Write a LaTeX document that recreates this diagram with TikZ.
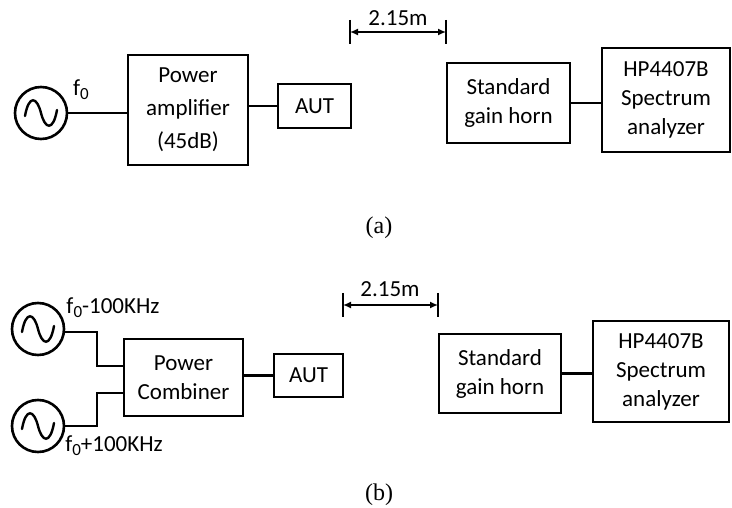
\documentclass[tikz,border=0pt]{standalone}
\usepackage{fontspec}
\setmainfont{Carlito}
\newfontfamily\capfont{Liberation Serif}
\usetikzlibrary{arrows.meta}

\begin{document}
\begin{tikzpicture}[x=1pt,y=-1pt,
  box/.style={draw,line width=2.8pt,inner sep=0pt,align=center,
    font=\fontsize{23}{29}\selectfont},
  src/.style={draw,circle,line width=2.6pt,minimum size=52pt,inner sep=0pt},
  wave/.style={line width=2.4pt,line cap=round},
  link/.style={line width=2.8pt},
  tickline/.style={line width=1.5pt},
  dimline/.style={line width=1.5pt,
    {Latex[length=8pt,width=7pt]}-{Latex[length=8pt,width=7pt]}},
  lbl/.style={font=\fontsize{23}{26}\selectfont,inner sep=0pt},
  captext/.style={font=\capfont\fontsize{24}{24}\selectfont}]
  \useasboundingbox (0,0) rectangle (732,508);

  % (a) single tone set-up
  \node[src] (s) at (41,113) {};
  \node[box,minimum width=120pt,minimum height=110pt,
    font=\fontsize{23}{33}\selectfont] (pa) at (188,110)
    {Power\\amplifier\\(45dB)};
  \node[box,minimum width=73pt,minimum height=44pt] (aut) at (314.5,106) {AUT};
  \node[box,minimum width=123pt,minimum height=80pt] (sgh) at (508.5,103)
    {Standard\\gain horn};
  \node[box,minimum width=128pt,minimum height=104pt] (sa) at (666,100)
    {HP4407B\\Spectrum\\analyzer};
  \node[lbl] (fa) at (81,90) {f\raisebox{-4pt}{\fontsize{17}{17}\selectfont 0}};

  \draw[link] (s.east) -- (s.east -| pa.west);
  \draw[link] (aut.west -| pa.east) -- (aut.west);
  \draw[link] (sgh.east) -- (sgh.east -| sa.west);

  \coordinate (da1) at (350,32);
  \coordinate (da2) at (446,32);
  \draw[tickline] ([yshift=12pt]da1) -- ([yshift=-12pt]da1);
  \draw[tickline] ([yshift=12pt]da2) -- ([yshift=-12pt]da2);
  \draw[dimline] (da1) -- (da2);
  \node[lbl] (dla) at (398,18) {2.15m};

  \node[captext] (capa) at (379,228) {(a)};

  % (b) two tone set-up
  \node[src] (s1) at (38,329) {};
  \node[src] (s2) at (38,426) {};
  \node[box,minimum width=119pt,minimum height=77pt] (pc) at (183.5,377.5)
    {Power\\Combiner};
  \node[box,minimum width=69pt,minimum height=43pt] (aut2) at (308.5,375.5) {AUT};
  \node[box,minimum width=122pt,minimum height=79pt] (sgh2) at (500,373.5)
    {Standard\\gain horn};
  \node[box,minimum width=136pt,minimum height=101pt] (sa2) at (661,371.5)
    {HP4407B\\Spectrum\\analyzer};
  \node[lbl] (fb1) at (113,308)
    {f\raisebox{-4pt}{\fontsize{17}{17}\selectfont 0}-100KHz};
  \node[lbl] (fb2) at (114,446)
    {f\raisebox{-4pt}{\fontsize{17}{17}\selectfont 0}+100KHz};

  \draw[link] ([yshift=-3pt]s1.east) -| (97,366) -- (97,366 -| pc.west);
  \draw[link] (s2.east) -| (97,393) -- (97,393 -| pc.west);
  \draw[link] (aut2.west -| pc.east) -- (aut2.west);
  \draw[link] (sgh2.east) -- (sgh2.east -| sa2.west);

  \coordinate (db1) at (343,305);
  \coordinate (db2) at (438,305);
  \draw[tickline] ([yshift=12pt]db1) -- ([yshift=-12pt]db1);
  \draw[tickline] ([yshift=12pt]db2) -- ([yshift=-12pt]db2);
  \draw[dimline] (db1) -- (db2);
  \node[lbl] (dlb) at (390,289) {2.15m};

  \node[captext] (capb) at (379,495) {(b)};

  % sine symbol inside every source
  \foreach \s in {s,s1,s2}
    \draw[wave,shift={(\s.center)}] (-16,3) .. controls (-12,-19) and (-4,-16) .. (0,0)
      .. controls (4,16) and (12,19) .. (16,-3);
\end{tikzpicture}
\end{document}
